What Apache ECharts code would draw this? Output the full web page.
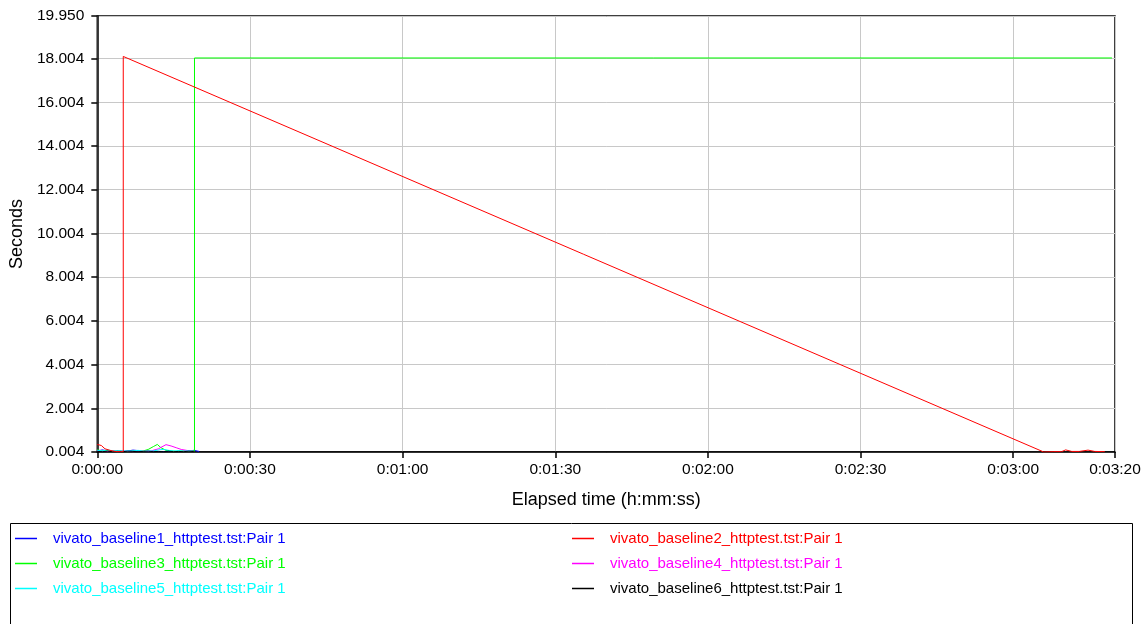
<!DOCTYPE html>
<html><head><meta charset="utf-8">
<script src="https://cdn.jsdelivr.net/npm/echarts@6/dist/echarts.min.js"></script>
<style>html,body{margin:0;padding:0;background:#fff}#c{width:1148px;height:624px}</style>
</head><body><div id="c"></div>
<script>
// Data: [elapsed seconds, response seconds]
const baseline1 = [[0,0.05],[1,0.1],[2,0.05],[3,0.03],[4,0.06],[5,0.04],[6,0.05],[7,0.09],[8,0.07],[9,0.03],[10,0.02],[11,0.04],[12,0.03],[13,0.02],[14,0.05],[15,0.03],[16,0.02],[17,0.04],[18,0.05],[19,0.08],[20,0.03]];
const baseline2 = [[0,0.35],[0.8,0.3],[1.5,0.15],[2.5,0.08],[3.5,0.03],[4.5,0.02],[5.1,0.02],[5.1,18.1],[186,0.004],[188,0.02],[189.5,0.02],[190.3,0.1],[191.5,0.03],[193,0.03],[194.7,0.09],[196,0.03],[198,0.02]];
const baseline3 = [[0,0.1],[1,0.05],[2,0.08],[3,0.03],[4,0.05],[5,0.03],[6,0.02],[7,0.04],[8,0.03],[9,0.05],[10,0.12],[11,0.25],[11.8,0.35],[12.5,0.2],[13.5,0.08],[14.5,0.05],[15.5,0.03],[16.5,0.05],[17.5,0.04],[18.5,0.06],[19.1,0.05],[19.1,18.03],[199.4,18.03]];
const baseline4 = [[0,0.06],[1,0.04],[2,0.03],[3,0.05],[4,0.02],[5,0.03],[6,0.04],[7,0.02],[8,0.03],[9,0.04],[10.5,0.05],[12,0.15],[13.5,0.34],[14.5,0.28],[15.5,0.2],[16.5,0.12],[17.5,0.08],[18.5,0.05],[19,0.03]];
const baseline5 = [[0,0.08],[1,0.06],[2,0.1],[3,0.05],[4,0.07],[5,0.04],[6,0.06],[7,0.05],[8,0.08],[9,0.04],[10,0.06],[11,0.05],[12,0.1],[13,0.12],[14,0.08],[15,0.05],[16,0.07],[17,0.04],[18,0.06],[19,0.03]];
const baseline6 = [[0,0.03],[1,0.02],[2,0.04],[3,0.02],[4,0.03],[5,0.02],[6,0.04],[7,0.03],[8,0.02],[9,0.03],[10,0.04],[11,0.02],[12,0.03],[13,0.02],[14,0.04],[15,0.02],[16,0.03],[17,0.02],[18,0.04],[19,0.02]];

const seriesNames = ['vivato_baseline1_httptest.tst:Pair 1','vivato_baseline2_httptest.tst:Pair 1','vivato_baseline3_httptest.tst:Pair 1','vivato_baseline4_httptest.tst:Pair 1','vivato_baseline5_httptest.tst:Pair 1','vivato_baseline6_httptest.tst:Pair 1'];
const seriesColors = ['#0000ff','#ff0000','#00ff00','#ff00ff','#00ffff','#000000'];
const seriesData = [baseline1, baseline2, baseline3, baseline4, baseline5, baseline6];
const yTicks = [0.004,2.004,4.004,6.004,8.004,10.004,12.004,14.004,16.004,18.004,19.950];
const xTicks = [0,30,60,90,120,150,180,200];

const FONT = '"Liberation Sans", Arial, sans-serif';
function hms(v){const h=Math.floor(v/3600),m=Math.floor((v%3600)/60),s=Math.round(v%60);return h+':'+String(m).padStart(2,'0')+':'+String(s).padStart(2,'0');}

const chart = echarts.init(document.getElementById('c'), null, {renderer:'canvas'});
function legendItems(idx){return idx.map(i=>({name:seriesNames[i], itemStyle:{color:seriesColors[i]}, textStyle:{color:seriesColors[i]}}));}
const legendCommon = {orient:'vertical', icon:'rect', itemWidth:22, itemHeight:1.5, itemGap:8, padding:0,
  textStyle:{fontFamily:FONT, fontSize:15, lineHeight:17, padding:[0,0,0,11]}, selectedMode:false};
chart.setOption({
  animation:false,
  backgroundColor:'#fff',
  grid:{left:97, top:16, right:33, bottom:172, show:true, borderColor:'#000', borderWidth:1.5},
  legend:[
    Object.assign({left:15, top:530, data:legendItems([0,2,4])}, legendCommon),
    Object.assign({left:572, top:530, data:legendItems([1,3,5])}, legendCommon)
  ],
  graphic:[{type:'rect', shape:{x:10.5, y:523.5, width:1122, height:120}, style:{fill:'none', stroke:'#000', lineWidth:1}, z:-1}],
  xAxis:{type:'value', min:0, max:200, name:'Elapsed time (h:mm:ss)', nameLocation:'middle', nameGap:39,
    nameTextStyle:{fontFamily:FONT, fontSize:18, color:'#000'},
    axisLine:{lineStyle:{color:'#000', width:1.5}},
    axisTick:{show:true, length:6, customValues:xTicks, lineStyle:{color:'#000', width:1.5}},
    axisLabel:{customValues:xTicks, formatter:hms, fontFamily:FONT, fontSize:15.5, color:'#000', margin:10, showMaxLabel:true},
    splitLine:{show:true, lineStyle:{color:'#c8c8c8', width:1}}},
  yAxis:{type:'value', min:0.004, max:19.95, name:'Seconds', nameLocation:'middle', nameGap:70,
    nameTextStyle:{fontFamily:FONT, fontSize:18, color:'#000'},
    axisLine:{show:true, lineStyle:{color:'#000', width:1.5}},
    axisTick:{show:true, length:6, customValues:yTicks, lineStyle:{color:'#000', width:1.5}},
    axisLabel:{customValues:yTicks, formatter:v=>v.toFixed(3), fontFamily:FONT, fontSize:15.5, color:'#000', margin:13},
    splitLine:{show:true, lineStyle:{color:'#c8c8c8', width:1}}},
  series: seriesData.map((d,i)=>({name:seriesNames[i], type:'line', data:d, showSymbol:false, symbol:'none',
    lineStyle:{color:seriesColors[i], width:1}, itemStyle:{color:seriesColors[i]}, clip:true,
    z: i===1?3:2}))
});
</script></body></html>
